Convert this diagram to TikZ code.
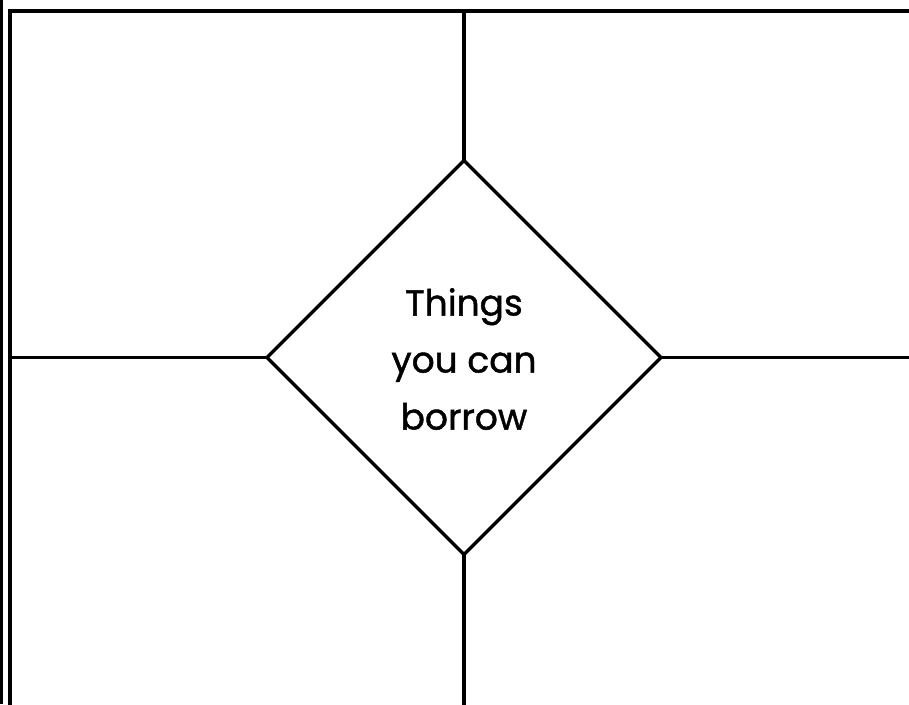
\documentclass[tikz,border=0pt]{standalone}
\usepackage{fontspec}
\setmainfont{Poppins}
\newfontfamily\lblfont[FakeBold=1.2]{Poppins}
\usetikzlibrary{shapes.geometric}
\begin{document}
\begin{tikzpicture}[x=1pt,y=-1pt,
  frame/.style={line width=3.3pt,draw=black},
  label/.style={align=center,font=\lblfont\fontsize{36}{57}\selectfont}]
\useasboundingbox (0,0) rectangle (909,704);
\clip (0,0) rectangle (909,704);
\fill[white] (0,0) rectangle (909,704);
\draw[frame] (1.5,0) -- (1.5,704);
\draw[frame] (10,720) -- (10,11) -- (920,11);
\coordinate (C) at (464,357.5);
\coordinate (T) at (464,160.5);
\coordinate (B) at (464,554.5);
\coordinate (L) at (267,357.5);
\coordinate (R) at (661,357.5);
\coordinate (top) at (464,11);
\coordinate (bot) at (464,720);
\coordinate (lft) at (10,357.5);
\coordinate (rgt) at (920,357.5);
\draw[frame,line join=miter] (T) -- (R) -- (B) -- (L) -- cycle;
\draw[frame] (top) -- (T);
\draw[frame] (B) -- (bot);
\draw[frame] (lft) -- (L);
\draw[frame] (R) -- (rgt);
\node[label] (txt) at (464,359) {Things\\you can\\borrow};
\end{tikzpicture}
\end{document}
